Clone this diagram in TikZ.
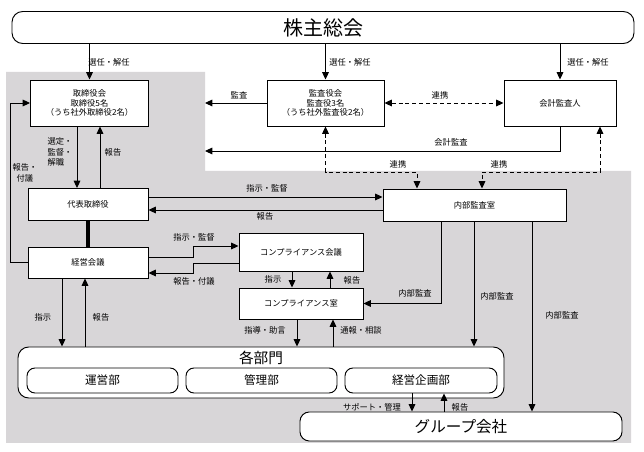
\documentclass[tikz,border=0pt]{standalone}
\usepackage{fontspec}
\setmainfont{Noto Sans CJK JP}
\usetikzlibrary{arrows.meta}
\tikzset{
  box/.style={draw, fill=white, line width=0.7pt, inner sep=0pt, align=center, font=\fontsize{6.2}{7.2}\selectfont},
  rbox/.style={box, rounded corners=6pt},
  lbl/.style={inner sep=0pt, align=center, font=\fontsize{6.2}{8}\selectfont},
  arr/.style={-{Triangle[length=5.5pt,width=5pt]}, line width=0.7pt},
  darr/.style={{Triangle[length=5.5pt,width=5pt]}-{Triangle[length=5.5pt,width=5pt]}, line width=0.7pt, dash pattern=on 3pt off 2.2pt}
}

\begin{document}
\begin{tikzpicture}[x=0.75pt,y=0.75pt,yscale=-1,xscale=1]
\useasboundingbox (0,0) rectangle (644,452);
\fill [color=white] (0,0) rectangle (644,452);
\fill [color={rgb, 255:red, 216; green, 214; blue, 216 }] (6,72) -- (205,72) -- (205,171) -- (631,171) -- (631,443) -- (6,443) -- cycle;

\node [rbox, minimum width=466.5pt, minimum height=24pt, rounded corners=8pt, font=\fontsize{15}{18}\selectfont] (ss) at (323,27.5) {株主総会};
\node [box, minimum width=88.5pt, minimum height=34.5pt] (tr) at (89.5,103) {取締役会\\取締役5名\\（うち社外取締役2名）};
\node [box, minimum width=87.75pt, minimum height=34.5pt] (ks) at (325.5,103) {監査役会\\監査役3名\\（うち社外監査役2名）};
\node [box, minimum width=84pt, minimum height=34.5pt] (ka) at (560,103) {会計監査人};
\node [box, minimum width=90pt, minimum height=24pt] (dh) at (88,204.5) {代表取締役};
\node [box, minimum width=90pt, minimum height=23.25pt] (km) at (88,262.5) {経営会議};
\node [box, minimum width=137.25pt, minimum height=24pt] (ia) at (474.5,205) {内部監査室};
\node [box, minimum width=93pt, minimum height=28.5pt] (ck) at (301,252) {コンプライアンス会議};
\node [box, minimum width=93pt, minimum height=23.25pt] (cs) at (301,303.5) {コンプライアンス室};
\node [rbox, minimum width=364.5pt, minimum height=38.25pt, rounded corners=8pt] (bm) at (261,372.5) {};
\node [lbl, font=\fontsize{11}{13}\selectfont] (bmt) at (261,358) {各部門};
\node [rbox, minimum width=113.25pt, minimum height=18.75pt, font=\fontsize{8.7}{10}\selectfont] (un) at (102.5,380.5) {運営部};
\node [rbox, minimum width=113.25pt, minimum height=18.75pt, font=\fontsize{8.7}{10}\selectfont] (kr) at (261.5,380.5) {管理部};
\node [rbox, minimum width=114pt, minimum height=18.75pt, font=\fontsize{8.7}{10}\selectfont] (kk) at (421,380.5) {経営企画部};
\node [rbox, minimum width=241.5pt, minimum height=21.75pt, rounded corners=7pt, font=\fontsize{11.7}{14}\selectfont] (gr) at (461,426.5) {グループ会社};

\coordinate (gl) at (205,0);
\coordinate (ac) at (205,151);
\coordinate (lp) at (10,0);
\coordinate (dl) at (417,172);
\coordinate (dr) at (482,172);
\coordinate (de) at (600,172);

\draw [arr] (ss.south -| tr) -- (tr.north);
\draw [arr] (ss.south -| ks) -- (ks.north);
\draw [arr] (ss.south -| ka) -- (ka.north);
\draw [arr] (ks.west) -- (ks.west -| gl);
\draw [darr] (ks.east) -- (ka.west);
\draw [arr] (ka.south) |- (ac);
\draw [darr] (ks.south) |- (dl) -- (dl |- ia.north);
\draw [darr] (de |- ka.south) -- (de) -- (dr) -- (dr |- ia.north);
\draw [arr] (tr.south -| 77,0) -- (dh.north -| 77,0);
\draw [arr] (dh.north -| 100,0) -- (tr.south -| 100,0);
\draw [line width=3.4pt] (dh.south) -- (km.north);
\draw [arr] (km.west) -| (lp |- tr.west) -- (tr.west);
\draw [arr] (dh.east |- 0,197) -- (ia.west |- 0,197);
\draw [arr] (ia.west |- 0,210) -- (dh.east |- 0,210);
\draw [arr] (km.east |- 0,257) -- (193,257) |- (ck.west |- 0,246);
\draw [arr] (ck.west |- 0,263) -- (193,263) |- (km.east |- 0,273);
\draw [arr] (ck.south -| 292,0) -- (cs.north -| 292,0);
\draw [arr] (cs.north -| 330,0) -- (ck.south -| 330,0);
\draw [arr] (ia.south -| 441,0) |- (cs.east);
\draw [arr] (ia.south -| 474,0) -- (bm.north -| 474,0);
\draw [arr] (ia.south -| 532,0) -- (gr.north -| 532,0);
\draw [arr] (km.south -| 62,0) -- (bm.north -| 62,0);
\draw [arr] (bm.north -| 85,0) -- (km.south -| 85,0);
\draw [arr] (cs.south -| 297,0) -- (bm.north -| 297,0);
\draw [arr] (bm.north -| 333,0) -- (cs.south -| 333,0);
\draw [arr] (kk.south -| 412,0) -- (gr.north -| 412,0);
\draw [arr] (gr.north -| 444,0) -- (kk.south -| 444,0);

\node [lbl] (sn1) at (109,62) {選任・解任};
\node [lbl] (sn2) at (350,62) {選任・解任};
\node [lbl] (sn3) at (588,62) {選任・解任};
\node [lbl] (kns) at (239,95) {監査};
\node [lbl] (rk1) at (440,95) {連携};
\node [lbl] (kk1) at (451,142) {会計監査};
\node [lbl, align=left] (stk) at (60,152) {選定・\\監督・\\解職};
\node [lbl] (hk1) at (113,152) {報告};
\node [lbl] (hf1) at (25,173) {報告・\\付議};
\node [lbl] (rk2) at (398,164) {連携};
\node [lbl] (rk3) at (499,164) {連携};
\node [lbl] (sk1) at (267,188) {指示・監督};
\node [lbl] (hk2) at (265,216) {報告};
\node [lbl] (sk2) at (194,237) {指示・監督};
\node [lbl] (hf2) at (194,281) {報告・付議};
\node [lbl] (sj1) at (273,279) {指示};
\node [lbl] (hk3) at (352,280) {報告};
\node [lbl] (nk1) at (415,293) {内部監査};
\node [lbl] (nk2) at (497,296) {内部監査};
\node [lbl] (nk3) at (562,315) {内部監査};
\node [lbl] (sj2) at (43,317) {指示};
\node [lbl] (hk4) at (101,317) {報告};
\node [lbl] (sd1) at (265,330) {指導・助言};
\node [lbl] (ts1) at (361,330) {通報・相談};
\node [lbl] (sp1) at (372,407) {サポート・管理};
\node [lbl] (hk5) at (460,407) {報告};
\end{tikzpicture}
\end{document}
